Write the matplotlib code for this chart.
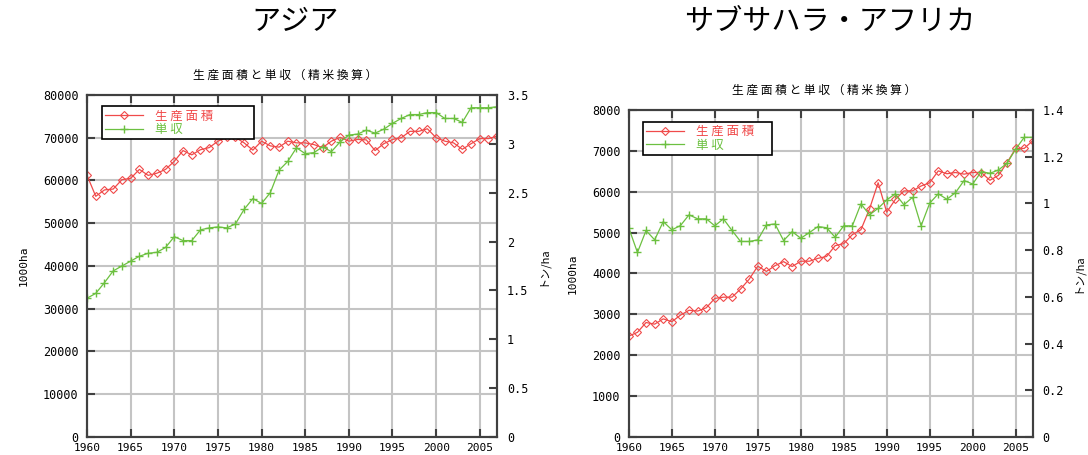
import numpy as np
import matplotlib.pyplot as plt
from matplotlib.ticker import FormatStrFormatter

years = list(range(1960, 2008))

# Asia: harvested area (1000ha) and yield (t/ha, milled rice)
asia_area = [61200, 56300, 57800, 58000, 60200, 60500, 62600, 61200, 61700, 62600,
             64500, 67000, 66000, 67200, 67700, 69200, 70100, 70100, 68800, 67100,
             69200, 68100, 67800, 69200, 68800, 68800, 68400, 67700, 69200, 70100,
             69200, 69600, 69500, 67000, 68600, 69600, 70000, 71500, 71500, 72100,
             70000, 69200, 68800, 67300, 68600, 69800, 69800, 70400]
asia_yield = [1.42, 1.47, 1.58, 1.70, 1.75, 1.80, 1.85, 1.88, 1.89, 1.94,
              2.05, 2.01, 2.01, 2.12, 2.14, 2.15, 2.14, 2.18, 2.33, 2.44,
              2.39, 2.50, 2.73, 2.82, 2.96, 2.90, 2.91, 2.97, 2.92, 3.02,
              3.09, 3.10, 3.14, 3.11, 3.15, 3.21, 3.26, 3.30, 3.30, 3.32,
              3.32, 3.26, 3.26, 3.22, 3.37, 3.37, 3.37, 3.38]

# Sub-Saharan Africa
ssa_area = [2470, 2560, 2800, 2760, 2890, 2820, 2980, 3100, 3080, 3160,
            3390, 3420, 3420, 3620, 3860, 4180, 4050, 4190, 4290, 4170,
            4300, 4300, 4370, 4415, 4680, 4730, 4950, 5070, 5580, 6220,
            5500, 5810, 6020, 6020, 6140, 6220, 6510, 6440, 6470, 6430,
            6470, 6470, 6280, 6400, 6710, 7060, 7060, 7250]
ssa_yield = [0.894, 0.79, 0.884, 0.844, 0.922, 0.887, 0.905, 0.951, 0.934, 0.934,
             0.904, 0.934, 0.884, 0.837, 0.837, 0.844, 0.908, 0.912, 0.841, 0.879,
             0.851, 0.875, 0.901, 0.896, 0.855, 0.904, 0.904, 0.998, 0.951, 0.979,
             1.015, 1.041, 0.994, 1.026, 0.904, 1.001, 1.041, 1.018, 1.046, 1.098,
             1.083, 1.136, 1.129, 1.143, 1.172, 1.232, 1.283, 1.283]

regions = ['アジア', 'サブサハラ・アフリカ']
subtitle = '生 産 面 積 と 単 収 （ 精 米 換 算 ）'
label_area = '生 産 面 積'
label_yield = '単 収'

RED = '#f04a4a'
GREEN = '#6cc040'
GRID = '#c4c4c4'
SPINE = '#404040'
CJK = ['Noto Sans CJK JP', 'DejaVu Sans']
MONO = 'DejaVu Sans Mono'


def panel(rect, area, yld, ymax, yticks, y2max, y2ticks, sub_y, leg_box):
    ax = fig.add_axes(rect)
    ax2 = ax.twinx()

    l1, = ax.plot(years, area, color=RED, lw=0.9, marker='D', ms=4,
                  mfc='none', mec=RED, mew=0.8)
    l2, = ax2.plot(years, yld, color=GREEN, lw=0.9, marker='+', ms=6, mew=1.0)

    ax.set_xlim(1960, 2007)
    ax.set_ylim(0, ymax)
    ax2.set_ylim(0, y2max)
    ax.set_xticks(range(1960, 2006, 5))
    ax.set_yticks(yticks)
    ax2.set_yticks(y2ticks)
    ax2.yaxis.set_major_formatter(FormatStrFormatter('%g'))

    ax.grid(True, color=GRID, lw=1.5)
    ax.set_axisbelow(True)
    ax.tick_params(direction='in', length=6, width=1.5, color=SPINE,
                   top=True, right=False, pad=6, labelsize=8.5)
    ax.tick_params(axis='x', pad=4.5, labelsize=8)
    ax2.tick_params(direction='in', length=6, width=1.5, color=SPINE,
                    pad=7, labelsize=8.5)
    for t in ax.get_xticklabels() + ax.get_yticklabels() + ax2.get_yticklabels():
        t.set_fontfamily(MONO)
    for a in (ax, ax2):
        for s in a.spines.values():
            s.set_color(SPINE)
            s.set_linewidth(1.5)

    ax.set_ylabel('1000ha', fontfamily=MONO, fontsize=8, labelpad=10)
    ax2.set_ylabel('トン/ha', fontfamily=CJK, fontsize=8, labelpad=6)

    leg = ax2.legend([l1, l2], [label_area, label_yield], loc='upper left',
                     bbox_to_anchor=leg_box, mode='expand', prop={'family': CJK, 'size': 9},
                     labelcolor='linecolor', handlelength=3.0, handletextpad=1.0,
                     labelspacing=0.05, borderpad=0.25, fancybox=False,
                     framealpha=1, edgecolor='black')
    leg.get_frame().set_linewidth(1.2)

    cx = rect[0] + rect[2] / 2 - 0.006
    fig.text(cx, sub_y, subtitle, ha='center', va='center',
             fontfamily=CJK, fontsize=8.5)
    return ax


fig = plt.figure(figsize=(10.88, 4.55), dpi=100)

panel([0.080, 0.0396, 0.377, 0.7516], asia_area, asia_yield,
      80000, range(0, 80001, 10000), 3.5, np.arange(0, 3.51, 0.5),
      0.835, (0.022, 0.985, 0.40, 0))
panel([0.578, 0.0396, 0.3713, 0.7187], ssa_area, ssa_yield,
      8000, range(0, 8001, 1000), 1.4, np.arange(0, 1.41, 0.2),
      0.802, (0.02, 0.982, 0.35, 0))

fig.text(0.271, 0.952, regions[0], ha='center', va='center',
         fontfamily=CJK, fontsize=21)
fig.text(0.763, 0.952, regions[1], ha='center', va='center',
         fontfamily=CJK, fontsize=21)

fig.savefig('out.png', dpi=100)
